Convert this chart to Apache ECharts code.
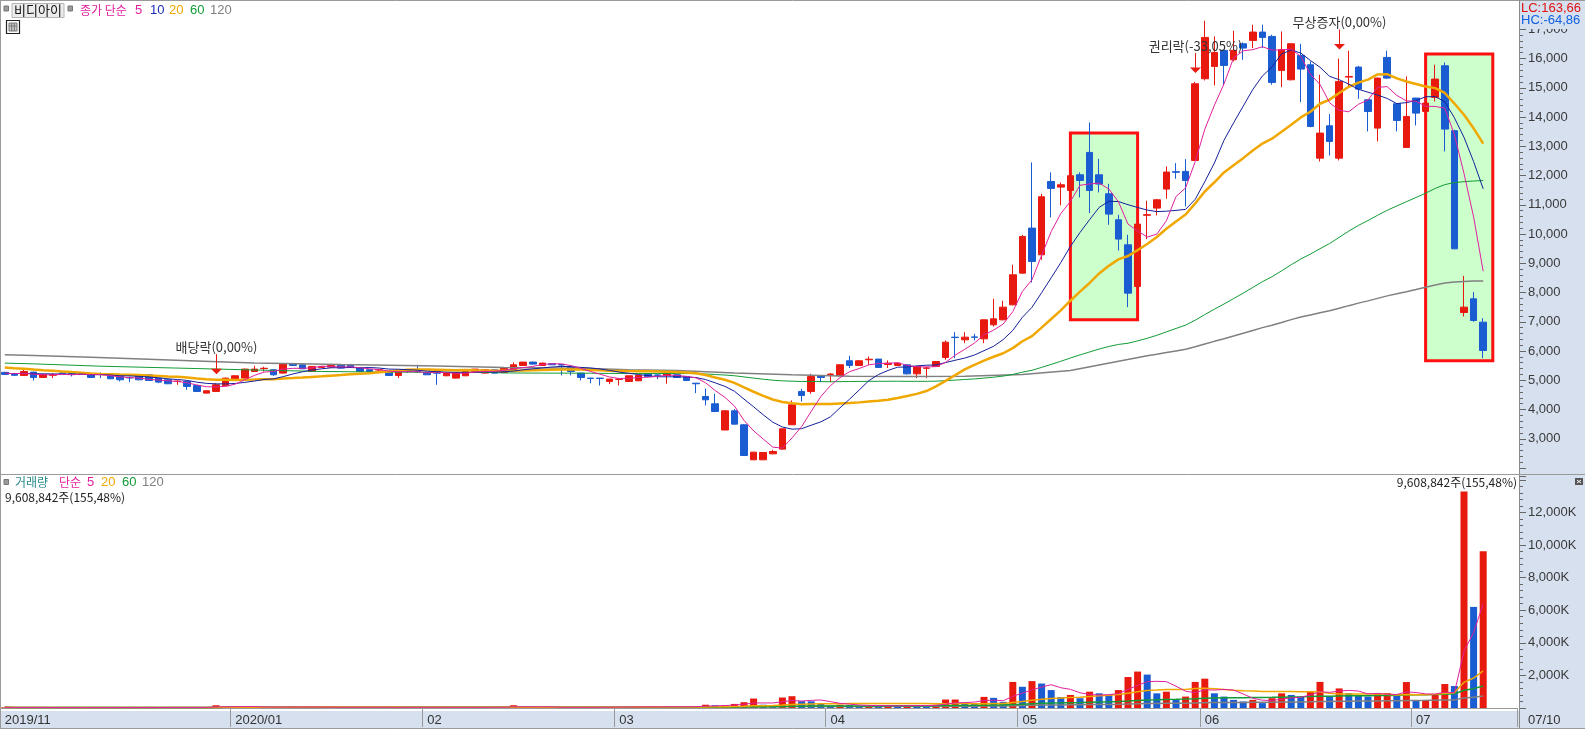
<!DOCTYPE html>
<html><head><meta charset="utf-8">
<script src="https://cdn.jsdelivr.net/npm/echarts@6/dist/echarts.min.js"></script>
<style>html,body{margin:0;padding:0;background:#fff;overflow:hidden}#c{width:1585px;height:729px}</style>
</head><body><div id="c"></div>
<script>
// ---------- DATA ----------
const monthDays = [
  ['2019/11', [26,27,28,29]],
  ['2019/12', [2,3,4,5,6,9,10,11,12,13,16,17,18,19,20,23,24,26,27,30]],
  ['2020/01', [2,3,6,7,8,9,10,13,14,15,16,17,20,21,22,23,28,29,30,31]],
  ['2020/02', [3,4,5,6,7,10,11,12,13,14,17,18,19,20,21,24,25,26,27,28]],
  ['2020/03', [2,3,4,5,6,9,10,11,12,13,16,17,18,19,20,23,24,25,26,27,30,31]],
  ['2020/04', [1,2,3,6,7,8,9,10,13,14,16,17,20,21,22,23,24,27,28,29]],
  ['2020/05', [4,6,7,8,11,12,13,14,15,18,19,20,21,22,25,26,27,28,29]],
  ['2020/06', [1,2,3,4,5,8,9,10,11,12,15,16,17,18,19,22,23,24,25,26,29,30]],
  ['2020/07', [1,2,3,6,7,8,9,10]]
];
const monthTickLabels = {'2019/11':'2019/11','2020/01':'2020/01','2020/02':'02','2020/03':'03','2020/04':'04','2020/05':'05','2020/06':'06','2020/07':'07'};

const opens = [5270,5210,5164,5278,5096,5170,5250,5235,5215,5187, 5225,5187,5153,5090,5187,5187,5073,5016,4960,4959, 4822,4560,4617,4811,5016,5073,5300,5400,5358,5244, 5552,5529,5300,5440,5450,5529,5529,5415,5358,5350, 5278,5164,5320,5300,5267,5300,5153,5073,5153,5300, 5244,5358,5267,5358,5506,5620,5506,5563,5540,5472, 5244,5073,5073,4959,5030,4959,4982,5221,5180,5164, 5187,5130,4900,4446,4195,3300,3956,3477,2280,2280, 2485,2645,3477,4617,4617,5153,5200,5153,5666,5506, 5700,5723,5540,5506,5527,5219,5410,5470,5778,6473, 6382,6480,6416,6895,7066,7579,8662,10201,9289,11797, 11603,11489,12025,12789,12025,11375,10486,9631,8206,10640, 10885,11535,12130,12140,12514,15307,15729,16277,15957,16504, 16618,16903,16755,15592,15273,16105,15786,12594,13700,12594, 15364,15706,14589,13620,16037,14452,12959,14646,14190,14669, 15752,13530,7317,7784,6986];
const closes = [5200,5170,5300,5096,5187,5190,5240,5220,5210,5096, 5210,5050,5016,5080,5016,4993,4936,4880,4970,4788, 4617,4640,4845,5073,5153,5381,5381,5410,5187,5552, 5506,5392,5472,5472,5506,5415,5440,5300,5300,5360, 5164,5335,5310,5290,5187,5240,5244,5244,5300,5381, 5358,5244,5415,5529,5620,5552,5586,5529,5520,5300, 5096,5060,5060,5039,5040,5153,5164,5130,5170,5267, 5096,4993,4880,4332,3933,3956,3500,2428,2542,2530, 2565,3340,4160,4480,5130,5096,5210,5529,5506,5666, 5720,5438,5580,5586,5219,5470,5420,5641,6302,6460, 6473,6470,7066,7100,7499,8605,9916,9061,11273,11558, 11683,11991,11831,11489,11706,10680,9825,7978,10338,10660, 11170,12117,12110,11831,15136,16721,16208,15763,16277,16356, 16903,16721,15182,16299,16504,15638,13677,13449,13164,15216, 15387,14954,14190,15330,15330,13882,14019,14133,14475,15296, 13586,9494,7499,7043,6017];
const lows = [5180,5150,5150,4993,5080,5073,5230,5130,5200,5080, 5073,5040,4960,4936,5000,4980,4900,4870,4845,4674, 4600,4550,4600,4800,5000,5060,5290,5300,5150,5230, 5500,5380,5290,5430,5440,5400,5420,5290,5290,5240, 5150,5073,5250,5250,5180,4845,5140,5060,5140,5290, 5230,5230,5250,5300,5500,5530,5500,5520,5164,5164, 4993,4900,4822,4868,4822,4950,4970,5120,5039,4880, 5080,4980,4560,4138,3910,3290,3490,2420,2270,2270, 2470,2640,3470,4275,4537,4936,4936,5140,5415,5500, 5529,5430,5415,5500,5200,5071,5071,5450,5698,5755, 6268,6359,6268,6838,7050,7560,8650,8343,9118,10566, 10979,11450,11250,10714,11421,10315,9437,7499,8150,9825, 10634,11204,11888,10942,12500,15250,15079,15079,15900,15957, 16356,16356,15102,15022,15250,14509,13650,12480,12685,12514, 14988,14623,13506,13164,15300,13506,12950,13711,14150,14532, 12822,9480,7180,7000,5755];
const highs = [5290,5230,5358,5290,5200,5244,5260,5267,5230,5200, 5267,5200,5160,5130,5200,5200,5080,5030,4993,4970, 4830,4650,4900,5090,5170,5400,5495,5460,5380,5586, 5560,5540,5480,5480,5520,5540,5560,5420,5370,5380, 5290,5340,5358,5529,5280,5310,5250,5250,5310,5390, 5370,5370,5430,5609,5630,5640,5600,5570,5550,5480, 5250,5080,5080,5050,5060,5160,5180,5230,5200,5335, 5200,5140,4900,4708,4537,3970,4013,3490,2550,2540, 2622,3350,4310,4708,5221,5160,5244,5540,5837,5680, 5814,5730,5677,5600,5540,5480,5470,5660,6360,6644, 6644,6587,7080,7784,7716,8947,9970,12447,11375,12105, 11763,12000,12105,13815,12572,11717,10657,9973,10400,11136, 11200,12310,12424,12561,15200,17291,16755,16300,16949,16550, 17154,17154,16812,16926,16527,16504,15900,15444,14099,16000, 16265,15750,14600,15350,16265,14470,15387,14660,14500,15786, 15866,13560,8571,8012,7123];
// closes before the visible window (estimated from the starting MA levels)
const preCloses = [5700,5680,5660,5640,5620,5660,5640,5620,5610,5600, 5240,5220,5230,5210,5230,5260,5250,5240,5270];
const ma60EarlyIdx = [0,3,10,20,25,33,40,50,52,56];
const ma60EarlyVal = [5586,5560,5480,5400,5358,5300,5278,5270,5250,5244];
const ma120EarlyIdx = [0,3,9,15,20,26,35,45,52,60,65,70,76,82,88,94,100,106,111];
const ma120EarlyVal = [5871,5850,5790,5720,5660,5590,5540,5490,5440,5410,5360,5330,5250,5190,5140,5128,5140,5200,5330];

// volume in thousands of shares
const volumes = [40,30,35,30,25,30,20,25,20,30,25,35,30,25,30,35,30,40,25,35,45,40,
 170,
 80,60,90,50,40,60,40,90,60,50,40,40,50,60,40,40,50,40,30,50,40,60,40,30,40,50,40,50,60,40,
 170,
 60,40,50,30,40,50,40,60,40,
 70,70,60,80,80,50,100,60,80,120,
 200,171,171,250,355,580,200,150,643,724,418,410,255,
 150,200,180,130,140,120,150,130,180,160,140,200,
 520,520,290,280,683,622,377,
 1600,1300,1650,1500,1100,670,800,600,1000,900,
 800,1100,1900,2235,2050,900,1000,500,700,1600,
 1800,900,700,500,400,500,300,600,900,800,
 700,1000,1600,700,1200,900,800,700,900,918,
 838,1592,490,490,838,1470,1347,13288,6203,9614];

const events = [
  {idx:22, text:'배당락(0,00%)'},
  {idx:124, text:'권리락(-33,05%)'},
  {idx:139, text:'무상증자(0,00%)'}
];
const boxes = [
  {from:111, to:118, top:13451, bottom:7068},
  {from:148, to:155, top:16152, bottom:5666}
];

// ---------- BUILD ----------
const UP='#e8190f', DOWN='#1a5cd1';
const C_MA5='#e0209e', C_MA10='#16209a', C_MA20='#f0a800', C_MA60='#139c35', C_MA120='#808080';
const dates=[], labelAt={};
monthDays.forEach(([m,ds])=>{ if(monthTickLabels[m]) labelAt[dates.length]=monthTickLabels[m]; ds.forEach(d=>dates.push(m+'/'+String(d).padStart(2,'0'))); });
const N = dates.length;
const cats = dates.concat(['pad1','pad2','pad3']);

function smaWithPre(vals, pre, n){
  const full = pre.concat(vals); const out=[];
  for(let i=0;i<vals.length;i++){ const e=i+pre.length; const s=Math.max(0,e-n+1); let sum=0; for(let k=s;k<=e;k++) sum+=full[k]; out.push(+(sum/(e-s+1)).toFixed(1)); }
  return out;
}
function mixedMA(n, eIdx, eVal){
  const pts = eIdx.map((ix,k)=>[ix,eVal[k]]);
  for(let i=n-1;i<N;i++){ let s=0; for(let k=i-n+1;k<=i;k++) s+=closes[k]; pts.push([i,+(s/n).toFixed(1)]); }
  return pts;
}
const ma5 = smaWithPre(closes, preCloses, 5);
const ma10 = smaWithPre(closes, preCloses, 10);
const ma20 = smaWithPre(closes, preCloses, 20);
const ma60 = mixedMA(60, ma60EarlyIdx, ma60EarlyVal);
const ma120 = mixedMA(120, ma120EarlyIdx, ma120EarlyVal);
const vma = n => smaWithPre(volumes, [], n);

const candle = opens.map((o,i)=>[o, closes[i], lows[i], highs[i]]);
const volData = volumes.map((v,i)=>({value:v, itemStyle:{color:(i>0 && v<volumes[i-1])?DOWN:UP}}));

const NUMF = "'Liberation Sans Narrow','Liberation Sans',Arial,sans-serif";
const KRF = "'Noto Sans CJK KR',sans-serif";
const SLOT = 9.6, GW = SLOT*cats.length;

const chart = echarts.init(document.getElementById('c'), null, {renderer:'canvas'});
const lineS = (name, data, color, w, xi, yi, z) => ({name, type:'line', data, xAxisIndex:xi, yAxisIndex:yi, showSymbol:false, symbol:'none', connectNulls:true, smooth:false, lineStyle:{color, width:w}, itemStyle:{color}, z:z||4, silent:true});

chart.setOption({
  animation:false,
  backgroundColor:'#ffffff',
  grid:[{left:0, top:0, width:GW, height:468},{left:0, top:476, width:GW, height:232}],
  xAxis:[
    {type:'category', gridIndex:0, data:cats, boundaryGap:true, show:false},
    {type:'category', gridIndex:1, data:cats, boundaryGap:true, position:'bottom', offset:2,
     axisLine:{show:true, lineStyle:{color:'#9a9a9a'}},
     axisTick:{show:true, length:19, interval:(i)=>labelAt[i]!==undefined, lineStyle:{color:'#9a9a9a'}},
     axisLabel:{show:true, interval:(i)=>labelAt[i]!==undefined, formatter:(v,i)=>labelAt[i]||'', align:'left', margin:4, color:'#333', fontSize:13, fontFamily:NUMF},
     splitLine:{show:false}}
  ],
  yAxis:[
    {type:'value', gridIndex:0, position:'right', offset:2.2, min:2000, max:18000, interval:1000, scale:false,
     axisLine:{show:false}, splitLine:{show:false},
     axisTick:{show:true, length:7, lineStyle:{color:'#666'}},
     minorTick:{show:true, splitNumber:5, length:4, lineStyle:{color:'#666'}},
     axisLabel:{margin:9, color:'#3a3a3a', fontSize:13, fontFamily:NUMF, formatter:v=>(v<3000||v>17000)?'':v.toLocaleString('en-US')}},
    {type:'value', gridIndex:1, position:'right', offset:2.2, min:0, max:14233, interval:2000,
     axisLine:{show:false}, splitLine:{show:false},
     axisTick:{show:true, length:7, lineStyle:{color:'#666'}},
     minorTick:{show:true, splitNumber:5, length:4, lineStyle:{color:'#666'}},
     axisLabel:{margin:9, color:'#3a3a3a', fontSize:13, fontFamily:NUMF, formatter:v=>(v<=0||v>12000||v%2000)?'':v.toLocaleString('en-US')+'K'}}
  ],
  series:[
    {name:'candle', type:'candlestick', xAxisIndex:0, yAxisIndex:0, data:candle, barWidth:7, z:3, silent:true,
     itemStyle:{color:UP, color0:DOWN, borderColor:UP, borderColor0:DOWN, borderWidth:1}},
    lineS('MA120', ma120, C_MA120, 1.5, 0, 0, 4),
    lineS('MA60', ma60, C_MA60, 1, 0, 0, 4),
    lineS('MA20', ma20, C_MA20, 2.5, 0, 0, 4),
    lineS('MA10', ma10, C_MA10, 1, 0, 0, 5),
    lineS('MA5', ma5, C_MA5, 1, 0, 0, 5),
    {name:'vol', type:'bar', xAxisIndex:1, yAxisIndex:1, data:volData, barWidth:7, z:3, silent:true},
    lineS('VMA120', vma(120), C_MA120, 1.5, 1, 1, 4),
    lineS('VMA60', vma(60), C_MA60, 1.5, 1, 1, 4),
    lineS('VMA20', vma(20), C_MA20, 1.5, 1, 1, 4),
    lineS('VMA5', vma(5), C_MA5, 1, 1, 1, 5)
  ]
});

// ---------- ANNOTATIONS / FRAME ----------
const g = [];
const txt = (text, x, y, fill, font, align, z) => ({type:'text', z:z||10, silent:true, style:{text, x, y, fill, font, textAlign:align||'left', textVerticalAlign:'middle'}});
const ln = (x1,y1,x2,y2,stroke,w,z) => ({type:'line', z:z||9, silent:true, shape:{x1,y1,x2,y2}, style:{stroke, lineWidth:w||1}});
const rc = (x,y,w,h,fill,stroke,lw,z) => ({type:'rect', z:z===undefined?-1:z, silent:true, shape:{x,y,width:w,height:h}, style:{fill, stroke:stroke||null, lineWidth:lw||0}});

g.push(rc(1519,0,66,729,'#d6e0ee',null,0,-1));
g.push(rc(0,711,1519,18,'#d6e0ee',null,0,-1));
g.push(ln(0,0.5,1585,0.5,'#9a9a9a',1));
g.push(ln(0.5,0,0.5,729,'#9a9a9a',1));
g.push(ln(1519.5,0,1519.5,729,'#8a8a8a',1));
g.push(ln(0,474.5,1585,474.5,'#9a9a9a',1));
g.push(ln(0,728.5,1585,728.5,'#9a9a9a',1));

boxes.forEach(b=>{
  const p1 = chart.convertToPixel({gridIndex:0},[b.from,b.top]);
  const p2 = chart.convertToPixel({gridIndex:0},[b.to,b.bottom]);
  g.push({type:'rect', z:1, silent:true, shape:{x:p1[0],y:p1[1],width:p2[0]-p1[0],height:p2[1]-p1[1]}, style:{fill:'#ccffcc', stroke:'#ff1010', lineWidth:3}});
});
events.forEach(e=>{
  const p = chart.convertToPixel({gridIndex:0},[e.idx, highs[e.idx]]);
  const x = Math.round(p[0])+0.5, tip = p[1]-9;
  g.push(ln(x,tip-20,x,tip-5,UP,1,6));
  g.push({type:'polygon', z:6, silent:true, shape:{points:[[x-5.5,tip-5.5],[x+5.5,tip-5.5],[x,tip]]}, style:{fill:UP}});
  g.push(txt(e.text, x, tip-27, '#333', '13px '+KRF, 'center', 0));
});

g.push(rc(4,6,4.5,5,'#9a9a9a','#777',1,10));
g.push(rc(12,3.5,52,14,'#ececec','#b5b5b5',1,10));
g.push(txt('비디아이', 38, 10.5, '#111', '13px '+KRF, 'center', 11));
g.push(rc(68,6,4.5,5,'#9a9a9a','#777',1,10));
g.push(txt('종가 단순', 80, 10.5, C_MA5, '12px '+KRF));
g.push(txt('5', 135, 10.5, C_MA5, '13px '+NUMF));
g.push(txt('10', 150, 10.5, '#1a2fb8', '13px '+NUMF));
g.push(txt('20', 169, 10.5, C_MA20, '13px '+NUMF));
g.push(txt('60', 190, 10.5, C_MA60, '13px '+NUMF));
g.push(txt('120', 210, 10.5, C_MA120, '13px '+NUMF));
g.push(rc(6.5,20.5,13,13,'#fff','#222',1.2,10));
g.push(rc(9,23,8,8,'#c8c8c8','#777',1,10));
g.push(ln(11.7,23,11.7,31,'#777',1,11));
g.push(ln(14.3,23,14.3,31,'#777',1,11));
g.push(ln(9,26,17,26,'#777',1,11));

g.push(rc(1520,1,65,28,'#d6e0ee',null,0,9));
g.push(txt('LC:163,66', 1521, 8, '#e01010', '13px '+NUMF, 'left', 10));
g.push(txt('HC:-64,86', 1521, 20, '#1060e0', '13px '+NUMF, 'left', 10));

g.push(rc(4,479.5,4.5,5,'#9a9a9a','#777',1,10));
g.push(txt('거래량', 15, 482.5, '#2a8a8a', '12px '+KRF));
g.push(txt('단순', 59, 482.5, C_MA5, '12px '+KRF));
g.push(txt('5', 87, 482.5, C_MA5, '13px '+NUMF));
g.push(txt('20', 101, 482.5, C_MA20, '13px '+NUMF));
g.push(txt('60', 122, 482.5, C_MA60, '13px '+NUMF));
g.push(txt('120', 142, 482.5, C_MA120, '13px '+NUMF));
g.push(txt('9,608,842주(155,48%)', 5, 497, '#222', '12px '+KRF));
g.push(txt('9,608,842주(155,48%)', 1517, 482.5, '#222', '12px '+KRF, 'right'));
g.push(rc(1575,478,8,7,'#555',null,0,10));
g.push(ln(1577,480,1581,483,'#fff',1,11));
g.push(ln(1581,480,1577,483,'#fff',1,11));
g.push(txt('07/10', 1528, 720, '#333', '13px '+NUMF));

chart.setOption({graphic:{elements:g}});
</script>
</body></html>
